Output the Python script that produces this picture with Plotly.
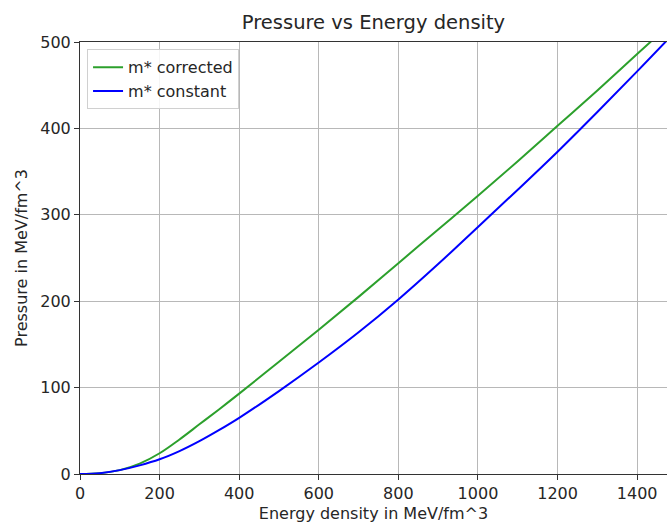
import plotly.graph_objects as go

energy = [0, 50, 100, 150, 200, 250, 300, 350, 400, 500, 600, 700, 800, 900, 1000, 1100, 1200, 1300, 1400, 1500]
p_corrected = [0, 1, 4.5, 12, 24, 40, 57.5, 75, 93, 130, 167, 205, 244, 283, 322, 362, 403, 444, 486, 528]
p_constant = [0, 1, 4.5, 10, 17, 26.5, 38, 51, 65, 96, 129, 164, 202, 243, 286, 329, 373, 419, 466, 514]

fig = go.Figure()
fig.add_trace(go.Scatter(x=energy, y=p_corrected, mode="lines", name="m* corrected",
                         line=dict(color="#2ca02c", width=2, shape="spline", smoothing=1.0)))
fig.add_trace(go.Scatter(x=energy, y=p_constant, mode="lines", name="m* constant",
                         line=dict(color="#0000ff", width=2, shape="spline", smoothing=1.0)))

font = "DejaVu Sans"
fig.update_layout(
    width=667, height=523,
    margin=dict(l=80, r=0, t=42, b=49),
    paper_bgcolor="white", plot_bgcolor="white",
    font=dict(family=font, size=16, color="#262626"),
    title=dict(text="Pressure vs Energy density", x=0.5, xref="paper", xanchor="center",
               y=1 - 22 / 523, yanchor="middle", font=dict(size=19.5, color="#262626")),
    showlegend=True,
    legend=dict(x=0.012, y=0.983, xanchor="left", yanchor="top",
                bgcolor="rgba(255,255,255,0.85)", bordercolor="#d0d0d0", borderwidth=1,
                font=dict(size=16), tracegroupgap=0),
    xaxis=dict(range=[0, 1475], tickvals=[0, 200, 400, 600, 800, 1000, 1200, 1400],
               showgrid=True, gridcolor="#b8b8b8", gridwidth=1, zeroline=False,
               showline=True, linecolor="#333333", linewidth=1, mirror=True,
               ticks="outside", ticklen=5, tickcolor="#333333",
               title=dict(text="Energy density in MeV/fm^3", standoff=6, font=dict(size=16))),
    yaxis=dict(range=[0, 500], tickvals=[0, 100, 200, 300, 400, 500],
               showgrid=True, gridcolor="#b8b8b8", gridwidth=1, zeroline=False,
               showline=True, linecolor="#333333", linewidth=1, mirror=False,
               ticks="outside", ticklen=5, tickcolor="#333333",
               title=dict(text="Pressure in MeV/fm^3", standoff=8, font=dict(size=16))),
)

fig.write_html("out.html")
